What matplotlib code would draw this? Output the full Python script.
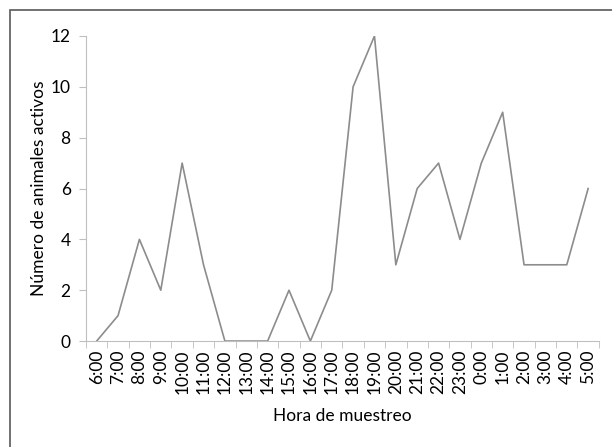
import matplotlib
matplotlib.use("Agg")
import matplotlib.pyplot as plt
from matplotlib.patches import Rectangle

horas = ["6:00", "7:00", "8:00", "9:00", "10:00", "11:00", "12:00", "13:00",
         "14:00", "15:00", "16:00", "17:00", "18:00", "19:00", "20:00", "21:00",
         "22:00", "23:00", "0:00", "1:00", "2:00", "3:00", "4:00", "5:00"]
activos = [0, 1, 4, 2, 7, 3, 0, 0, 0, 2, 0, 2, 10, 12, 3, 6, 7, 4, 7, 9, 3, 3, 3, 6]

plt.rcParams['font.family'] = ['Lato', 'DejaVu Sans']
fs = 12.5

fig = plt.figure(figsize=(6.12, 4.47), dpi=100)
ax = fig.add_axes([0.1405, 0.237, 0.838, 0.6825])

x = list(range(len(horas)))
ax.plot(x, activos, color='#8c8c8c', lw=1.2)

ax.set_xlim(-0.5, len(horas) - 0.5)
ax.set_ylim(0, 12)
ax.set_yticks(range(0, 13, 2))
ax.set_xticks(x)
ax.set_xticklabels(horas, rotation=90, fontsize=fs)
# Excel-style ticks between categories
ax.set_xticks([i - 0.5 for i in range(len(horas) + 1)], minor=True)
ax.tick_params(axis='x', which='major', length=0, pad=6)
ax.tick_params(axis='x', which='minor', length=5, color='#bfbfbf', direction='out')
ax.tick_params(axis='y', labelsize=fs, length=5, color='#bfbfbf', pad=6)

for s in ['top', 'right']:
    ax.spines[s].set_visible(False)
for s in ['left', 'bottom']:
    ax.spines[s].set_color('#bfbfbf')

ax.set_xlabel("Hora de muestreo", fontsize=fs, labelpad=10)
ax.set_ylabel("Número de animales activos", fontsize=fs, labelpad=3)

# outer chart frame
fig.patches.append(Rectangle((10 / 612, -0.05), 1.1, 1 - 10 / 447 + 0.05,
                             transform=fig.transFigure, fill=False,
                             edgecolor='#595959', lw=1.2))

fig.savefig("out.png", dpi=100)
